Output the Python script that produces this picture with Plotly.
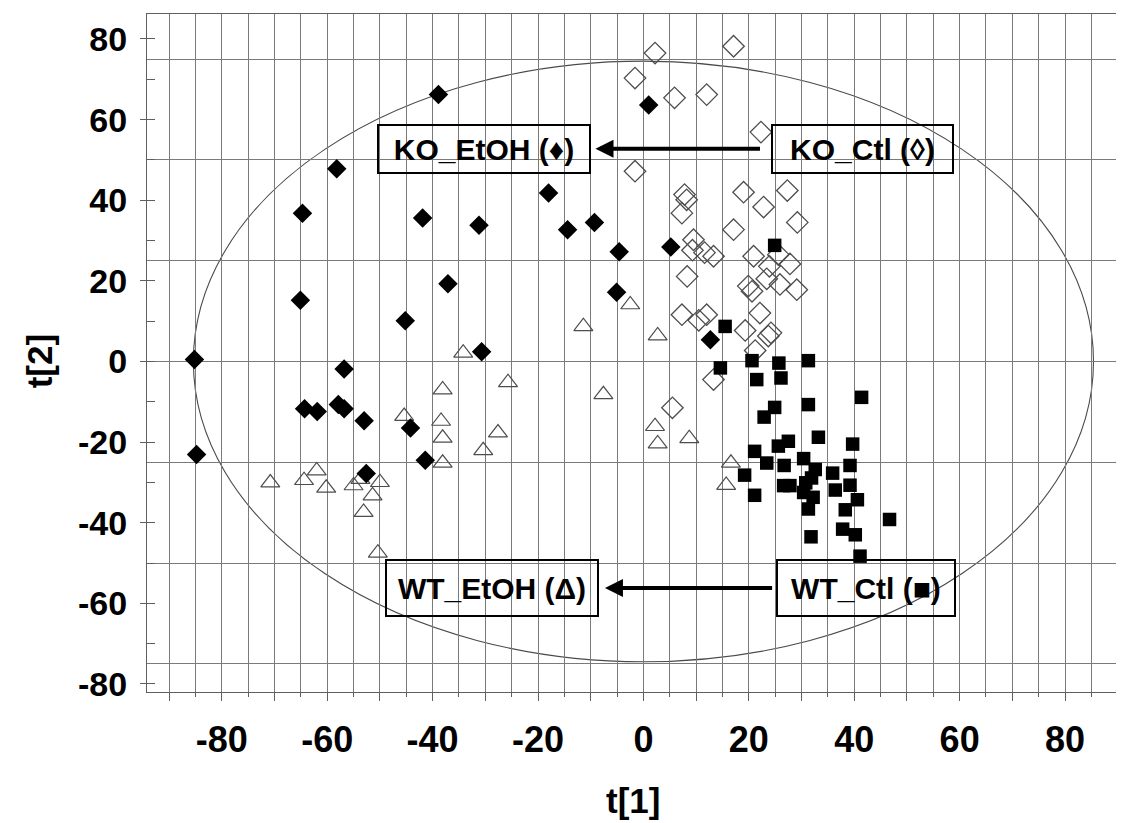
import plotly.graph_objects as go

# ---------------- data ----------------
ko_etoh_x = [-85.2, -84.8, -38.9, 1.0, -64.7, -65.1, -58.2, -41.9, -37.1, -45.2,
             -30.7, -18.0, -14.4, -31.2, -9.3, -4.6, 5.2, -5.1, 12.7, -56.8,
             -64.3, -61.9, -57.9, -56.8, -53.0, -44.2, -41.4, -52.6]
ko_etoh_y = [0.5, -23.1, 66.2, 63.6, 36.8, 15.2, 47.8, 35.6, 19.3, 10.1,
             2.4, 41.8, 32.7, 33.8, 34.5, 27.2, 28.4, 17.2, 5.4, -1.9,
             -11.7, -12.4, -10.7, -11.7, -14.7, -16.5, -24.5, -27.8]

ko_ctl_x = [2.2, 17.1, -1.6, 5.9, 12.0, 22.3, -1.6, 7.8, 8.2, 7.3,
            19.0, 27.3, 22.8, 29.2, 17.1, 9.5, 9.3, 11.6, 13.3, 20.9,
            25.6, 27.8, 23.9, 23.4, 8.3, 19.9, 20.6, 25.9, 29.1, 7.3,
            10.5, 12.0, 22.1, 19.3, 23.7, 24.2, 21.2, 13.3, 5.5]
ko_ctl_y = [76.5, 78.2, 70.3, 65.4, 66.2, 56.9, 47.2, 41.4, 40.1, 36.8,
            42.0, 42.4, 38.3, 34.5, 32.7, 30.2, 27.6, 27.0, 26.1, 26.1,
            26.5, 24.2, 23.6, 20.5, 21.1, 18.7, 17.4, 19.1, 17.8, 11.6,
            10.2, 11.6, 12.0, 7.7, 6.3, 7.1, 2.7, -4.5, -11.5]

wt_ctl_x = [24.9, 15.5, 14.6, 20.6, 25.7, 31.3, 21.5, 26.1, 41.4, 31.3,
            24.9, 22.9, 33.2, 27.5, 25.6, 39.7, 21.1, 23.4, 30.4, 26.7,
            39.2, 19.2, 32.6, 35.9, 31.9, 30.8, 26.6, 27.8, 36.4, 39.2,
            30.4, 32.2, 21.1, 40.6, 31.3, 38.3, 46.7, 37.8, 40.2, 31.8, 41.1]
wt_ctl_y = [28.8, 8.7, -1.6, 0.2, -0.4, 0.2, -4.5, -4.1, -8.9, -10.7,
            -11.4, -13.8, -18.8, -19.8, -21.0, -20.5, -22.3, -25.2, -24.1, -25.8,
            -25.8, -28.2, -26.8, -27.7, -28.9, -30.1, -30.8, -30.8, -31.9, -30.7,
            -32.5, -33.7, -33.2, -34.3, -36.6, -36.8, -39.2, -41.6, -43.0, -43.5, -48.3]

wt_etoh_x = [-70.8, -64.4, -62.0, -60.2, -55.0, -53.7, -50.0, -51.4, -53.1, -50.4,
             -45.4, -38.1, -38.4, -38.1, -38.1, -34.2, -25.7, -27.6, -30.4, -11.4,
             -2.5, 2.7, -7.6, 2.2, 2.7, 8.7, 16.6, 15.7]
wt_etoh_y = [-30.1, -29.5, -27.1, -31.4, -30.8, -29.2, -30.0, -33.3, -37.4, -47.5,
             -13.6, -7.0, -14.8, -19.0, -25.2, 2.1, -5.2, -17.7, -22.1, 8.7,
             14.1, 6.4, -8.2, -16.1, -20.4, -19.1, -25.2, -30.7]

# Hotelling ellipse semi-axes
ellipse_a = 85.4
ellipse_b = 74.5

x_tick_vals = list(range(-90, 91, 10))
x_tick_text = [str(v) if (v % 20 == 0 and abs(v) <= 80) else "" for v in x_tick_vals]
y_tick_vals = list(range(-80, 81, 20))
y_tick_text = [str(v) for v in y_tick_vals]

FONT = "Liberation Sans, Arial, sans-serif"
GRID = "#7a7a7a"
LINE = "#5f5f5f"

fig = go.Figure()
fig.add_trace(go.Scatter(x=ko_ctl_x, y=ko_ctl_y, mode="markers", name="KO_Ctl",
                         marker=dict(symbol="diamond-open", size=16.5, color="#4d4d4d",
                                     line=dict(width=1.3))))
fig.add_trace(go.Scatter(x=wt_etoh_x, y=wt_etoh_y, mode="markers", name="WT_EtOH",
                         marker=dict(symbol="triangle-up-open", size=16.5, color="#4d4d4d",
                                     line=dict(width=1.2))))
fig.add_trace(go.Scatter(x=wt_ctl_x, y=wt_ctl_y, mode="markers", name="WT_Ctl",
                         marker=dict(symbol="square", size=13.5, color="black")))
fig.add_trace(go.Scatter(x=ko_etoh_x, y=ko_etoh_y, mode="markers", name="KO_EtOH",
                         marker=dict(symbol="diamond", size=15, color="black")))
# helper trace for the 25-unit horizontal grid axis
fig.add_trace(go.Scatter(x=[None], y=[None], yaxis="y2", mode="markers",
                         showlegend=False, hoverinfo="skip"))

fig.add_shape(type="circle", xref="x", yref="y", x0=-ellipse_a, x1=ellipse_a,
              y0=-ellipse_b, y1=ellipse_b, line=dict(color="#4a4a4a", width=1.1), layer="below")

xr = [-94.2, 90.05]
yr = [-82.0, 86.2]

fig.update_layout(
    width=1124, height=823,
    margin=dict(l=139, r=14, t=6, b=139),
    paper_bgcolor="white", plot_bgcolor="white",
    showlegend=False,
    font=dict(family=FONT, color="black"),
    xaxis=dict(range=xr, tickmode="array", tickvals=x_tick_vals, ticktext=x_tick_text,
               ticks="outside", ticklen=8, tickwidth=1, tickcolor=LINE,
               showgrid=True, gridcolor=GRID, gridwidth=1,
               minor=dict(dtick=5, tick0=0, ticks="outside", ticklen=4, tickcolor=LINE,
                          showgrid=True, gridcolor=GRID, gridwidth=1),
               showline=True, mirror=True, linecolor=LINE, linewidth=1,
               zeroline=False, ticklabelstandoff=8,
               tickfont=dict(family=FONT, size=36, color="black", weight="bold")),
    yaxis=dict(range=yr, tickmode="array", tickvals=y_tick_vals, ticktext=y_tick_text,
               ticks="outside", ticklen=6, tickwidth=1, tickcolor=LINE,
               showgrid=False,
               minor=dict(dtick=10, tick0=0, ticks="inside", ticklen=8, tickcolor=LINE,
                          showgrid=False),
               showline=True, mirror=True, linecolor=LINE, linewidth=1,
               zeroline=False, ticklabelstandoff=6,
               tickfont=dict(family=FONT, size=34, color="black", weight="bold")),
    yaxis2=dict(range=yr, overlaying="y", side="left", tick0=0, dtick=25,
                showgrid=True, gridcolor=GRID, gridwidth=1, showticklabels=False,
                ticks="", showline=False, zeroline=False),
)

box_font = dict(family=FONT, size=30, color="black", weight="bold")
boxes = [
    ("KO_EtOH (\u2666)", -30.2, 52.8, 208, 44),
    ("KO_Ctl (\u25ca)", 41.5, 52.8, 177, 44),
    ("WT_EtOH (\u0394)", -28.7, -56.2, 208, 52),
    ("WT_Ctl (\u25a0)", 42.3, -56.2, 174, 52),
]
for txt, bx, by, bw, bh in boxes:
    fig.add_annotation(x=bx, y=by, xref="x", yref="y", text=txt, showarrow=False,
                       font=box_font, bordercolor="black", borderwidth=2, borderpad=1,
                       width=bw, height=bh, xanchor="center", yanchor="middle",
                       bgcolor="rgba(0,0,0,0)")

for tip_x, tail_x, yy in [(-9.1, 22.4, 52.8), (-7.3, 24.7, -56.2)]:
    fig.add_annotation(x=tip_x, y=yy, ax=tail_x, ay=yy, xref="x", yref="y",
                       axref="x", ayref="y", text="", showarrow=True,
                       arrowhead=2, arrowsize=0.9, arrowwidth=4, arrowcolor="black",
                       standoff=0, startstandoff=0)

title_font = dict(family=FONT, size=35, color="black", weight="bold")
fig.add_annotation(text="t[1]", xref="paper", yref="paper", x=0.5, y=-0.16,
                   showarrow=False, font=title_font, xanchor="center", yanchor="middle")
fig.add_annotation(text="t[2]", xref="paper", yref="paper", x=-0.111, y=0.488,
                   showarrow=False, font=title_font, textangle=-90,
                   xanchor="center", yanchor="middle")

fig.write_html("out.html")
